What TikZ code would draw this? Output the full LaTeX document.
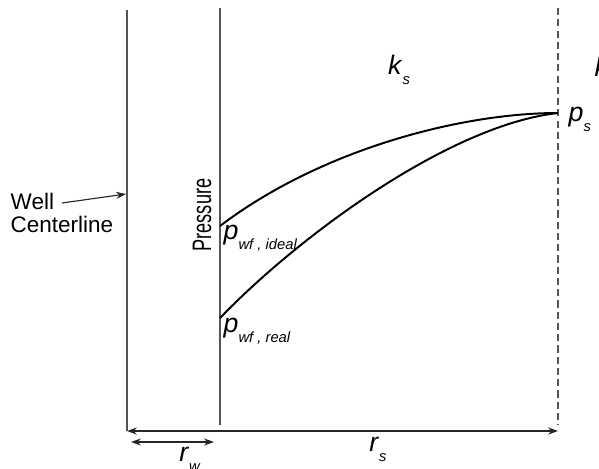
\documentclass[tikz,border=0pt]{standalone}
\usepackage{fontspec}
\setmainfont{Liberation Sans}
\usetikzlibrary{arrows.meta,positioning}
\definecolor{wallgray}{HTML}{555555}
\newcommand{\plabel}[2]{\textit{#1}\raisebox{-0.7ex}{\fontsize{10.5}{10.5}\selectfont\textit{#2}}}

\begin{document}
\begin{tikzpicture}[x=0.025cm, y=-0.025cm, every node/.style={font=\fontsize{15}{15}\selectfont, inner sep=1pt},
    wall/.style={draw=wallgray, line width=1.4pt},
    profile/.style={draw=black, line width=1.4pt},
    dim/.style={{Stealth[length=7pt,width=5pt]}-{Stealth[length=7pt,width=5pt]}, line width=1pt, draw=black!85},
    sym/.style={font=\fontsize{19}{19}\selectfont}]
    \path[use as bounding box, clip] (0,0) rectangle (599,468);

    \coordinate (welltop) at (127, 10);
    \coordinate (wellbot) at (127, 431);
    \coordinate (facetop) at (220, 8);
    \coordinate (facebot) at (220, 425);
    \coordinate (edgetop) at (558, 8);
    \coordinate (edgebot) at (558, 425);
    \coordinate (rsend) at (558, 431);
    \coordinate (rwstart) at (131, 442);
    \coordinate (rwend) at (214, 442);
    \coordinate (ideal) at (220, 226);
    \coordinate (real) at (220, 318);
    \coordinate (ps) at (558, 113);
    \coordinate (welltip) at (126, 194);

    % walls and outer boundary
    \draw[wall] (welltop) -- (wellbot);
    \draw[wall] (facetop) -- (facebot);
    \draw[wall, dashed, dash pattern=on 5pt off 3pt, line width=1pt] (edgetop) -- (edgebot);

    % pressure profiles
    \draw[profile] (ideal) .. controls (320, 150) and (460, 113) .. (ps);
    \draw[profile] (real) .. controls (300, 235) and (450, 125) .. (ps);

    % labels
    \node[align=left, anchor=west, font=\fontsize{16}{16.5}\selectfont] (wellnote) at (9, 213) {Well\\Centerline};
    \draw[-{Stealth[length=7pt,width=5pt]}, line width=0.8pt, draw=black!85] (62, 203) -- (welltip);
    \node[rotate=90, font=\fontsize{19}{19}\selectfont] (pressurelbl) at (202, 215) {\scalebox{0.68}[1]{Pressure}};
    \node[sym] (kslbl) at (399, 70) {\plabel{k}{s}};
    \node[sym, anchor=west] (kedge) at (593, 67) {\textit{k}};
    \node[sym, anchor=west] (pslbl) at (567, 119) {\plabel{p}{s}};
    \node[sym, anchor=west] (idealbl) at (222, 238) {\plabel{p}{wf , ideal}};
    \node[sym, anchor=west] (reallbl) at (222, 331) {\plabel{p}{wf , real}};

    % dimensions
    \draw[dim] (wellbot) -- (rsend);
    \draw[dim] (rwstart) -- (rwend);
    \node[sym] (rslbl) at (378, 449) {\plabel{r}{s}};
    \node[sym] (rwlbl) at (190, 459) {\plabel{r}{w}};
\end{tikzpicture}
\end{document}
